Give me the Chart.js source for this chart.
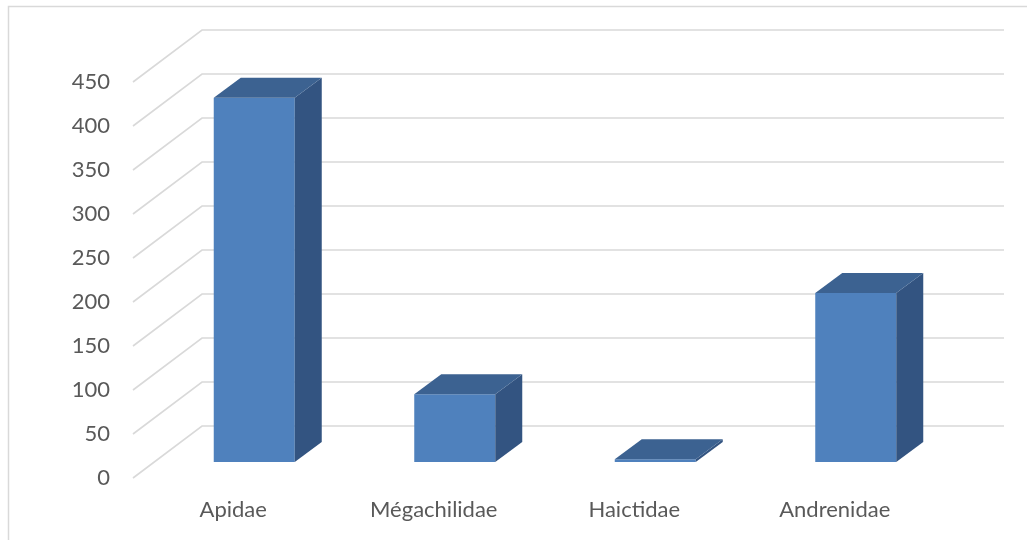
<!DOCTYPE html>
<html>
<head>
<meta charset="utf-8">
<script src="https://cdn.jsdelivr.net/npm/chart.js@4/dist/chart.umd.min.js"></script>
<style>
  html, body { margin: 0; padding: 0; background: #ffffff; }
  #wrap { width: 1027px; height: 540px; }
</style>
</head>
<body>
<div id="wrap"><canvas id="c" width="1027" height="540"></canvas></div>
<script>
const categories = ["Apidae", "Mégachilidae", "Haictidae", "Andrenidae"];
const values = [414, 77, 3, 192];
const yTicks = [0, 50, 100, 150, 200, 250, 300, 350, 400, 450];

const DEPTH_X = 69, DEPTH_Y = -52;     // full floor depth
const BAR_OFF_X = 21, BAR_OFF_Y = -16; // bar front plane offset
const BAR_D_X = 27, BAR_D_Y = -20;     // bar depth
const GRID = '#d9d9d9';
const FRONT = '#4f81bd', TOP = '#3c6291', SIDE = '#335481';

const threeD = {
  id: 'threeD',
  beforeDraw(chart) {
    const ctx = chart.ctx;
    ctx.save();
    ctx.strokeStyle = GRID;
    ctx.lineWidth = 1.5;
    ctx.beginPath();
    ctx.moveTo(8.5, 540);
    ctx.lineTo(8.5, 6.5);
    ctx.lineTo(1027, 6.5);
    ctx.stroke();
    ctx.restore();
  },
  beforeDatasetsDraw(chart) {
    const ctx = chart.ctx;
    const y = chart.scales.y, a = chart.chartArea;
    ctx.save();
    ctx.strokeStyle = GRID;
    ctx.lineWidth = 1.6;
    yTicks.forEach(v => {
      const py = y.getPixelForValue(v);
      ctx.beginPath();
      ctx.moveTo(a.left, py);
      ctx.lineTo(a.left + DEPTH_X, py + DEPTH_Y);
      ctx.lineTo(a.right + DEPTH_X, py + DEPTH_Y);
      ctx.stroke();
    });
    ctx.restore();
    ctx.save();
    ctx.translate(BAR_OFF_X, BAR_OFF_Y);
  },
  afterDatasetsDraw(chart) {
    const ctx = chart.ctx;
    const meta = chart.getDatasetMeta(0);
    meta.data.forEach(el => {
      const { x, y, base, width } = el.getProps(['x', 'y', 'base', 'width'], true);
      const l = x - width / 2, r = x + width / 2;
      ctx.fillStyle = SIDE;
      ctx.beginPath();
      ctx.moveTo(r, y);
      ctx.lineTo(r + BAR_D_X, y + BAR_D_Y);
      ctx.lineTo(r + BAR_D_X, base + BAR_D_Y);
      ctx.lineTo(r, base);
      ctx.closePath();
      ctx.fill();
      ctx.fillStyle = TOP;
      ctx.beginPath();
      ctx.moveTo(l, y);
      ctx.lineTo(l + BAR_D_X, y + BAR_D_Y);
      ctx.lineTo(r + BAR_D_X, y + BAR_D_Y);
      ctx.lineTo(r, y);
      ctx.closePath();
      ctx.fill();
    });
    ctx.restore();
  }
};

new Chart(document.getElementById('c'), {
  type: 'bar',
  data: {
    labels: categories,
    datasets: [{
      data: values,
      backgroundColor: FRONT,
      borderWidth: 0,
      barPercentage: 0.404,
      categoryPercentage: 1.0,
      clip: false
    }]
  },
  options: {
    responsive: false,
    animation: false,
    events: [],
    layout: { padding: { top: 82, right: 92, left: 0, bottom: 0 } },
    plugins: { legend: { display: false }, tooltip: { enabled: false }, title: { display: false } },
    scales: {
      x: {
        grid: { display: false, drawTicks: false },
        border: { display: false },
        ticks: { color: '#595959', font: { family: 'Lato', size: 22 }, padding: 19, maxRotation: 0 },
        afterFit(s) { s.height = 62; }
      },
      y: {
        min: 0, max: 450,
        grid: { display: false, drawTicks: false },
        border: { display: false },
        ticks: { stepSize: 50, color: '#595959', font: { family: 'Lato', size: 22 }, padding: 23 },
        afterFit(s) { s.width = 133; }
      }
    }
  },
  plugins: [threeD]
});
</script>
</body>
</html>
